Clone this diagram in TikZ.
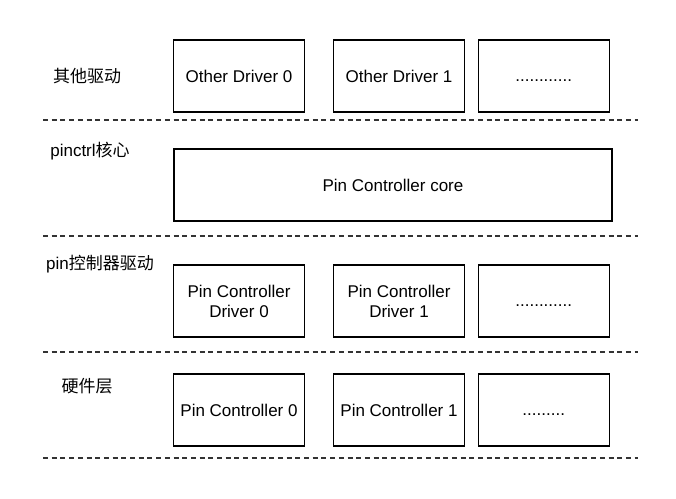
\documentclass[tikz,border=0pt]{standalone}
\usepackage{fontspec}
\setmainfont{Liberation Sans}
\newfontfamily\cjk{Noto Sans CJK SC}
\usetikzlibrary{positioning}
\begin{document}
\begin{tikzpicture}[x=1pt, y=-1pt, node distance={12.5pt},
	font=\fontsize{17}{20}\selectfont,
	block/.style = {draw, line width=1.2pt, minimum width=131pt, minimum height=72pt, inner sep=0pt, align=center},
	layer/.style = {anchor=center},
	sep/.style = {line width=1.4pt, dash pattern=on 5pt off 3.7pt, black!80}]
	\useasboundingbox (0,0) rectangle (676,498);
	% layer labels
	\node[layer] (l1) at (87,76) {\cjk 其他驱动};
	\node[layer] (l2) at (90,151) {pinctrl\cjk 核心};
	\node[layer] (l3) at (100,264) {pin\cjk 控制器驱动};
	\node[layer] (l4) at (87,386) {\cjk 硬件层};
	% other drivers
	\node[block] (od0) at (239,76) {Other Driver 0};
	\node[block] (od1) [right=27.8pt of od0] {Other Driver 1};
	\node[block] (od2) [right=of od1] {\vphantom{O}............};
	% core
	\node[block, minimum width=438pt] (core) at (393,185) {Pin Controller core};
	% pin controller drivers
	\node[block] (pd0) at (239,301) {Pin Controller\\Driver 0};
	\node[block] (pd1) [right=27.8pt of pd0] {Pin Controller\\Driver 1};
	\node[block] (pd2) [right=of pd1] {\vphantom{O}............};
	% hardware
	\node[block] (pc0) at (239,410) {Pin Controller 0};
	\node[block] (pc1) [right=27.8pt of pc0] {Pin Controller 1};
	\node[block] (pc2) [right=of pc1] {\vphantom{O}.........};
	% separators
	\draw[sep] (43,120) -- (638,120);
	\draw[sep] (43,236) -- (638,236);
	\draw[sep] (43,352) -- (638,352);
	\draw[sep] (43,458) -- (638,458);
\end{tikzpicture}
\end{document}
